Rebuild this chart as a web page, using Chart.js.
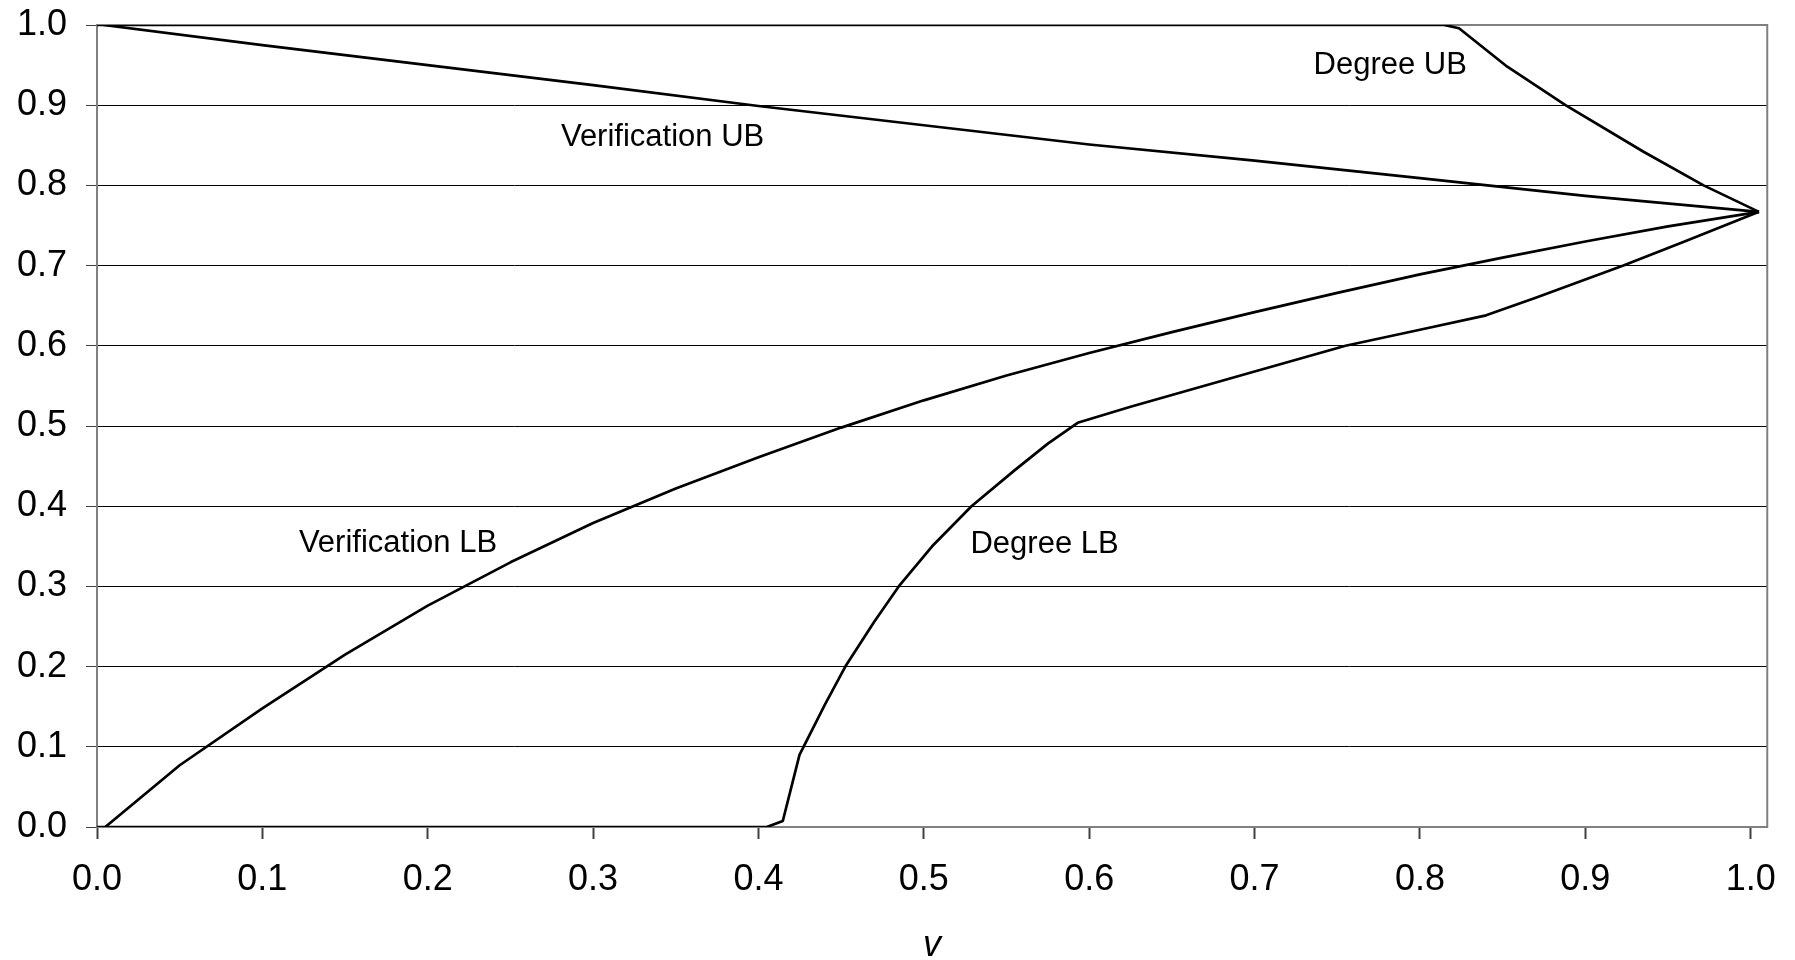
<!DOCTYPE html>
<html>
<head>
<meta charset="utf-8">
<script src="https://cdn.jsdelivr.net/npm/chart.js@4/dist/chart.umd.min.js"></script>
<style>
  html, body { margin: 0; padding: 0; background: #fff; }
  #wrap { width: 1795px; height: 960px; }
</style>
</head>
<body>
<div id="wrap"><canvas id="boundsChart"></canvas></div>
<script>
/* values */
const tickLabels = ['0.0', '0.1', '0.2', '0.3', '0.4', '0.5', '0.6', '0.7', '0.8', '0.9', '1.0'];

const vubX = [0.004, 0.1, 0.2, 0.3, 0.4, 0.5, 0.6, 0.7, 0.8, 0.9, 1.005];
const vubY = [1.0, 0.975, 0.950, 0.925, 0.899, 0.875, 0.851, 0.831, 0.809, 0.787, 0.767];

const vlbX = [0.005, 0.05, 0.1, 0.15, 0.2, 0.25, 0.3, 0.35, 0.4, 0.45, 0.5, 0.55, 0.6, 0.65, 0.7, 0.75, 0.8, 0.85, 0.9, 0.95, 1.005];
const vlbY = [0, 0.077, 0.148, 0.215, 0.276, 0.330, 0.379, 0.422, 0.461, 0.498, 0.532, 0.563, 0.591, 0.617, 0.642, 0.666, 0.689, 0.710, 0.730, 0.749, 0.767];

const dubX = [0, 0.8146, 0.8236, 0.8528, 0.888, 0.9352, 0.9715, 1.005];
const dubY = [1.0, 1.0, 0.996, 0.948, 0.900, 0.842, 0.800, 0.767];

const dlbX = [0, 0.405, 0.4147, 0.4248, 0.44, 0.4525, 0.47, 0.4848, 0.505, 0.5288, 0.555, 0.575, 0.593, 0.625, 0.7, 0.755, 0.8, 0.84, 0.87, 0.923, 0.96, 1.005];
const dlbY = [0, 0, 0.0075, 0.09, 0.152, 0.2, 0.256, 0.3, 0.35, 0.4, 0.445, 0.478, 0.504, 0.524, 0.568, 0.6, 0.62, 0.638, 0.66, 0.7, 0.73, 0.767];

const curveNames = ['Verification UB', 'Verification LB', 'Degree UB', 'Degree LB'];

const labelText = ['Degree UB', 'Verification UB', 'Verification LB', 'Degree LB'];
const labelX = [0.782, 0.342, 0.182, 0.573];
const labelY = [0.95, 0.86, 0.354, 0.352];

function toPoints(xs, ys) {
    var pts = [];
    for (var i = 0; i < xs.length; i++) {
        pts.push({ x: xs[i], y: ys[i] });
    }
    return pts;
}

const seriesX = [vubX, vlbX, dubX, dlbX];
const seriesY = [vubY, vlbY, dubY, dlbY];

var datasets = [];
for (var i = 0; i < curveNames.length; i++) {
    datasets.push({
        label: curveNames[i],
        data: toPoints(seriesX[i], seriesY[i]),
        showLine: true,
        borderColor: '#000',
        backgroundColor: '#000',
        borderWidth: 2.7,
        borderJoinStyle: 'round',
        pointRadius: 0,
        tension: 0,
        fill: false
    });
}

/* gray frame round the plot area */
const plotFrame = {
    id: 'plotFrame',
    beforeDatasetsDraw(chart) {
        const a = chart.chartArea;
        const ctx = chart.ctx;
        ctx.save();
        ctx.strokeStyle = '#808080';
        ctx.lineWidth = 2;
        ctx.strokeRect(a.left, a.top, a.right - a.left, a.bottom - a.top);
        ctx.restore();
    }
};

/* curve names written inside the plot */
const curveLabels = {
    id: 'curveLabels',
    afterDatasetsDraw(chart) {
        const ctx = chart.ctx;
        const xs = chart.scales.x, ys = chart.scales.y;
        ctx.save();
        ctx.font = '31px "Liberation Sans", Arial, sans-serif';
        ctx.fillStyle = '#000';
        ctx.textAlign = 'center';
        ctx.textBaseline = 'middle';
        for (var i = 0; i < labelText.length; i++) {
            ctx.fillText(labelText[i], xs.getPixelForValue(labelX[i]), ys.getPixelForValue(labelY[i]));
        }
        ctx.restore();
    }
};

Chart.defaults.font.family = '"Liberation Sans", Arial, sans-serif';
Chart.defaults.color = '#000';

const config = {
    type: 'scatter',
    data: { datasets: datasets },
    options: {
        responsive: true,
        maintainAspectRatio: false,
        animation: false,
        layout: { padding: { top: 25, right: 27, left: 0, bottom: 0 } },
        plugins: {
            legend: { display: false },
            tooltip: { enabled: false }
        },
        scales: {
            x: {
                type: 'linear',
                min: 0,
                max: 1.01,
                afterBuildTicks: function(scale) {
                    // ticks only at the labelled values, the axis runs a little past 1.0
                    scale.ticks = tickLabels.map(function(s) { return { value: parseFloat(s) }; });
                },
                afterFit: function(scale) { scale.height = 133; },
                grid: {
                    drawOnChartArea: false,
                    tickLength: 12,
                    tickColor: '#404040',
                    tickWidth: 2
                },
                border: { display: false },
                ticks: {
                    padding: 19,
                    maxRotation: 0,
                    autoSkip: false,
                    color: '#000',
                    font: { size: 36 },
                    callback: function(v, i) { return tickLabels[i]; }
                },
                title: {
                    display: true,
                    text: 'v',
                    color: '#000',
                    font: { size: 36, style: 'italic' },
                    padding: { top: 0, bottom: -8 }
                }
            },
            y: {
                type: 'linear',
                min: 0,
                max: 1,
                afterFit: function(scale) {
                    scale.width = 97;
                    scale.paddingTop = 0;
                    scale.paddingBottom = 0;
                },
                grid: {
                    color: '#000',
                    lineWidth: 1,
                    tickLength: 11,
                    tickColor: '#404040'
                },
                border: { display: false },
                ticks: {
                    stepSize: 0.1,
                    padding: 19,
                    color: '#000',
                    font: { size: 36 },
                    callback: function(v, i) { return tickLabels[i]; }
                }
            }
        }
    },
    plugins: [plotFrame, curveLabels]
};

var ctx = document.getElementById('boundsChart').getContext('2d');
window.boundsChart = new Chart(ctx, config);
</script>
</body>
</html>
